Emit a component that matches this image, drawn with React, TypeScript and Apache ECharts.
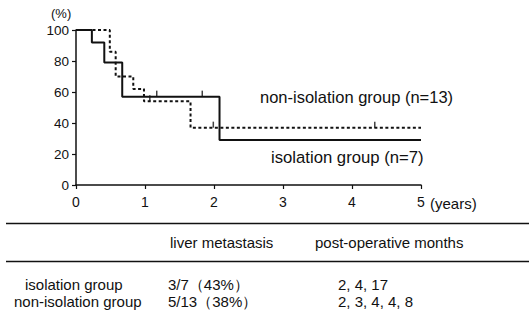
import React, { useEffect, useRef } from "react";
import * as echarts from "echarts";

// Kaplan–Meier curves (years, % survival)
const isoTimes = [0, 0.23, 0.41, 0.67, 2.08, 5];
const isoValues = [100, 92, 79, 57, 29, 29];
const nonIsoTimes = [0, 0.49, 0.575, 0.83, 0.985, 1.66, 5];
const nonIsoValues = [100, 86, 70, 62, 54, 37, 37];
// censored marks
const isoCensorTimes = [1.17, 1.83];
const isoCensorValues = [57, 57];
const nonIsoCensorTimes = [1.07, 1.99, 4.33];
const nonIsoCensorValues = [54, 37, 37];

const yTicks = [0, 20, 40, 60, 80, 100];
const xTicks = [0, 1, 2, 3, 4, 5];

const tableHeader = ["liver metastasis", "post-operative months"];
const tableGroups = ["isolation group", "non-isolation group"];
const tableMetastasis = ["3/7（43%）", "5/13（38%）"];
const tableMonths = ["2, 4, 17", "2, 3, 4, 4, 8"];

const FONT = "'Liberation Sans', Arial, Helvetica, sans-serif";
const INK = "#111";

export default function App() {
  const ref = useRef<HTMLDivElement>(null);
  useEffect(() => {
    document.body.style.margin = "0";
    const chart = echarts.init(ref.current!, null, { renderer: "svg" });
    const zip = (xs: number[], ys: number[]) => xs.map((x, i) => [x, ys[i]]);
    const textStyle = (text: string, x: number, y: number, size: number, align = "left") => ({
      type: "text",
      x,
      y,
      style: { text, fill: INK, font: `${size}px ${FONT}`, textAlign: align, textVerticalAlign: "middle" },
    });
    chart.setOption({
      animation: false,
      grid: { left: 76, top: 30, width: 345, height: 155, containLabel: false },
      xAxis: {
        type: "value",
        min: 0,
        max: 5,
        interval: 1,
        axisLine: { lineStyle: { color: INK, width: 1.5 } },
        axisTick: { show: true, length: 4, lineStyle: { color: INK, width: 1.2 } },
        axisLabel: {
          color: INK,
          fontSize: 14,
          fontFamily: FONT,
          margin: 10,
          formatter: (v: number) => (xTicks.includes(v) ? String(v) : ""),
        },
        splitLine: { show: false },
      },
      yAxis: {
        type: "value",
        min: 0,
        max: 100,
        interval: 20,
        axisLine: { show: true, lineStyle: { color: INK, width: 1.5 } },
        axisTick: { show: true, length: 4, lineStyle: { color: INK, width: 1.2 } },
        axisLabel: {
          color: INK,
          fontSize: 13.5,
          fontFamily: FONT,
          margin: 7,
          formatter: (v: number) => (yTicks.includes(v) ? String(v) : ""),
        },
        splitLine: { show: false },
      },
      series: [
        {
          type: "line",
          name: "non-isolation group",
          step: "end",
          data: zip(nonIsoTimes, nonIsoValues),
          symbol: "none",
          lineStyle: { color: INK, width: 2, type: [3, 2.5] },
          z: 2,
        },
        {
          type: "line",
          name: "isolation group",
          step: "end",
          data: zip(isoTimes, isoValues),
          symbol: "none",
          lineStyle: { color: INK, width: 2, type: "solid" },
          z: 3,
        },
        {
          type: "scatter",
          data: zip(isoCensorTimes, isoCensorValues).concat(zip(nonIsoCensorTimes, nonIsoCensorValues)),
          symbol: "rect",
          symbolSize: [1.5, 6],
          symbolOffset: [0, -3],
          itemStyle: { color: INK },
          z: 4,
        },
      ],
      graphic: [
        textStyle("(%)", 51, 13, 13),
        textStyle("(years)", 430, 203, 15),
        textStyle("non-isolation group (n=13)", 260, 97, 16.5),
        textStyle("isolation group (n=7)", 271, 157, 16.7),
        { type: "line", shape: { x1: 6, y1: 223.5, x2: 529, y2: 223.5 }, style: { stroke: INK, lineWidth: 1.3 } },
        { type: "line", shape: { x1: 6, y1: 261.5, x2: 529, y2: 261.5 }, style: { stroke: INK, lineWidth: 1.3 } },
        textStyle(tableHeader[0], 170, 242, 15),
        textStyle(tableHeader[1], 315, 242, 15),
        textStyle(tableGroups[0], 25, 284, 15),
        textStyle(tableGroups[1], 14, 301, 15),
        textStyle(tableMetastasis[0], 168, 284, 15),
        textStyle(tableMetastasis[1], 168, 301, 15),
        textStyle(tableMonths[0], 338, 284, 15),
        textStyle(tableMonths[1], 338, 301, 15),
      ],
    });
    return () => chart.dispose();
  }, []);
  return <div ref={ref} style={{ position: "absolute", left: 0, top: 0, width: 529, height: 327 }} />;
}
